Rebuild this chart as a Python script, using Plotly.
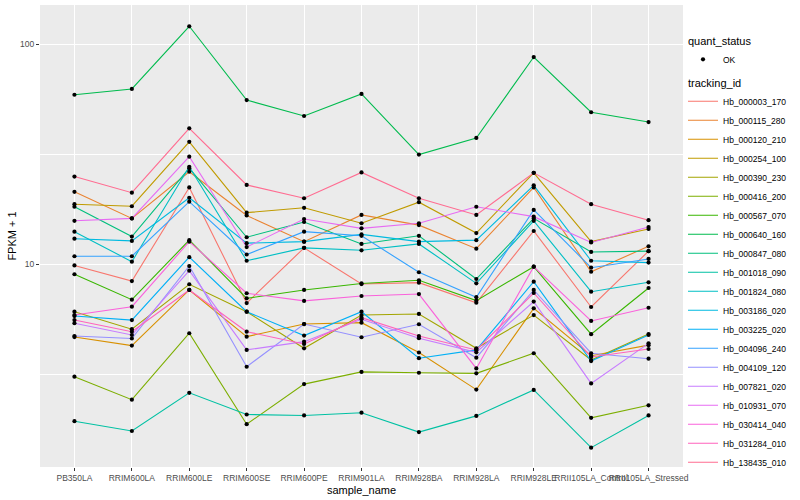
import plotly.graph_objects as go

sample_names = ["PB350LA", "RRIM600LA", "RRIM600LE", "RRIM600SE", "RRIM600PE",
                "RRIM901LA", "RRIM928BA", "RRIM928LA", "RRIM928LE",
                "RRII105LA_Control", "RRII105LA_Stressed"]

tracking_ids = ["Hb_000003_170", "Hb_000115_280", "Hb_000120_210", "Hb_000254_100",
                "Hb_000390_230", "Hb_000416_200", "Hb_000567_070", "Hb_000640_160",
                "Hb_000847_080", "Hb_001018_090", "Hb_001824_080", "Hb_003186_020",
                "Hb_003225_020", "Hb_004096_240", "Hb_004109_120", "Hb_007821_020",
                "Hb_010931_070", "Hb_030414_040", "Hb_031284_010", "Hb_138435_010"]

hue_colors = ["#F8766D", "#EA8331", "#D89000", "#C09B00", "#A3A500", "#7CAE00",
              "#39B600", "#00BB4E", "#00BF7D", "#00C1A3", "#00BFC4", "#00BAE0",
              "#00B0F6", "#35A2FF", "#9590FF", "#C77CFF", "#E76BF3", "#FA62DB",
              "#FF62BC", "#FF6C91"]

# FPKM + 1 per sample
fpkm_000003_170 = [9.90, 8.41, 22.4, 6.68, 11.9, 8.15, 8.27, 6.70, 14.2, 6.41, 11.5]
fpkm_000115_280 = [21.4, 16.2, 26.4, 16.7, 12.7, 16.8, 15.1, 11.8, 22.4, 9.27, 12.1]
fpkm_000120_210 = [4.68, 4.28, 7.66, 4.70, 5.36, 5.44, 3.98, 2.70, 6.32, 3.85, 4.30]
fpkm_000254_100 = [18.8, 18.4, 36.1, 17.2, 18.1, 15.4, 19.2, 13.9, 26.1, 12.7, 14.5]
fpkm_000390_230 = [6.10, 5.08, 8.13, 6.10, 4.16, 5.89, 5.96, 4.16, 5.89, 3.68, 4.83]
fpkm_000416_200 = [3.09, 2.43, 4.87, 1.88, 2.86, 3.25, 3.22, 3.20, 3.95, 2.01, 2.29]
fpkm_000567_070 = [9.03, 6.92, 12.9, 7.02, 7.66, 8.20, 8.48, 6.85, 9.77, 4.82, 7.82]
fpkm_000640_160 = [59.1, 62.8, 121.0, 55.9, 47.3, 59.6, 31.6, 37.6, 87.7, 49.2, 44.4]
fpkm_000847_080 = [18.3, 13.4, 27.4, 13.3, 15.6, 12.4, 13.5, 8.59, 16.2, 11.4, 11.5]
fpkm_001018_090 = [1.94, 1.75, 2.61, 2.08, 2.06, 2.12, 1.73, 2.05, 2.69, 1.47, 2.06]
fpkm_001824_080 = [14.1, 10.3, 27.8, 10.4, 11.9, 11.6, 12.4, 8.21, 15.8, 7.52, 8.30]
fpkm_003186_020 = [13.1, 12.8, 20.1, 12.5, 12.7, 13.7, 12.7, 12.9, 22.9, 10.4, 10.2]
fpkm_003225_020 = [5.83, 5.59, 10.8, 6.10, 4.75, 6.10, 3.75, 4.09, 8.35, 3.64, 4.78]
fpkm_004096_240 = [10.9, 10.9, 19.3, 11.1, 14.1, 13.5, 9.22, 7.10, 17.7, 9.67, 10.6]
fpkm_004109_120 = [4.73, 4.61, 9.84, 3.43, 5.36, 4.67, 5.35, 3.77, 7.66, 3.95, 3.73]
fpkm_007821_020 = [5.41, 4.78, 9.37, 4.09, 4.46, 5.64, 4.62, 3.99, 6.78, 2.88, 4.38]
fpkm_010931_070 = [15.8, 16.2, 30.9, 12.0, 16.1, 14.6, 15.4, 18.3, 16.5, 12.6, 14.8]
fpkm_030414_040 = [5.89, 6.43, 12.7, 7.40, 6.83, 7.19, 7.34, 3.37, 9.77, 5.54, 6.36]
fpkm_031284_010 = [5.59, 4.95, 7.66, 4.95, 4.35, 5.73, 4.73, 4.09, 7.42, 3.80, 4.13]
fpkm_138435_010 = [25.1, 21.2, 41.6, 23.0, 20.0, 26.2, 20.0, 16.8, 26.1, 18.8, 15.9]

series_values = [fpkm_000003_170, fpkm_000115_280, fpkm_000120_210, fpkm_000254_100,
                 fpkm_000390_230, fpkm_000416_200, fpkm_000567_070, fpkm_000640_160,
                 fpkm_000847_080, fpkm_001018_090, fpkm_001824_080, fpkm_003186_020,
                 fpkm_003225_020, fpkm_004096_240, fpkm_004109_120, fpkm_007821_020,
                 fpkm_010931_070, fpkm_030414_040, fpkm_031284_010, fpkm_138435_010]

y_tick_vals = [10, 100]
y_tick_text = ["10", "100"]

FONT = "Liberation Sans"
fig = go.Figure()

all_x, all_y = [], []
for vals in series_values:
    all_x += sample_names
    all_y += vals

for i, (tid, col, vals) in enumerate(zip(tracking_ids, hue_colors, series_values)):
    kw = {}
    if i == 0:
        kw["legendgrouptitle"] = dict(text="tracking_id", font=dict(size=11, color="black", family=FONT))
    fig.add_trace(go.Scatter(x=sample_names, y=vals, mode="lines", name=tid,
                             line=dict(color=col, width=1.1),
                             legendgroup="tracking", legendrank=100 + i, **kw))

fig.add_trace(go.Scatter(x=all_x, y=all_y, mode="markers", name="OK",
                         marker=dict(color="black", size=4.2),
                         legendgroup="quant", legendrank=1,
                         legendgrouptitle=dict(text="quant_status", font=dict(size=11, color="black", family=FONT))))

fig.update_layout(
    width=800, height=500,
    margin=dict(l=40, r=117, t=5, b=33),
    paper_bgcolor="white", plot_bgcolor="#EBEBEB",
    font=dict(family=FONT, size=9, color="#4D4D4D"),
    showlegend=True,
    legend=dict(x=1.0, y=0.955, xanchor="left", yanchor="top",
                traceorder="grouped", tracegroupgap=4, itemwidth=30,
                font=dict(size=8.5, color="black", family=FONT),
                bgcolor="rgba(0,0,0,0)"),
    xaxis=dict(type="category", categoryorder="array", categoryarray=sample_names,
               range=[-0.6, 10.6], showgrid=True, gridcolor="white", gridwidth=1.1,
               zeroline=False, ticks="outside", ticklen=3, tickcolor="#333333",
               tickangle=0, tickfont=dict(size=8.5, color="#4D4D4D"),
               title=dict(text="sample_name", font=dict(size=11, color="black"), standoff=4),
               automargin=False),
    yaxis=dict(type="log", range=[0.0795, 2.1795], tickvals=y_tick_vals, ticktext=y_tick_text,
               showgrid=True, gridcolor="white", gridwidth=1.1, zeroline=False,
               ticks="outside", ticklen=3, tickcolor="#333333",
               tickfont=dict(size=8.5, color="#4D4D4D"),
               minor=dict(tickvals=[3.1623, 31.623], showgrid=True, gridcolor="white",
                          gridwidth=0.55, ticks=""),
               title=dict(text="FPKM + 1", font=dict(size=11, color="black"), standoff=1),
               automargin=False),
)

fig.write_html("out.html", config={"displayModeBar": False},
               post_script="document.body.style.margin='0';document.body.style.overflow='hidden';")
